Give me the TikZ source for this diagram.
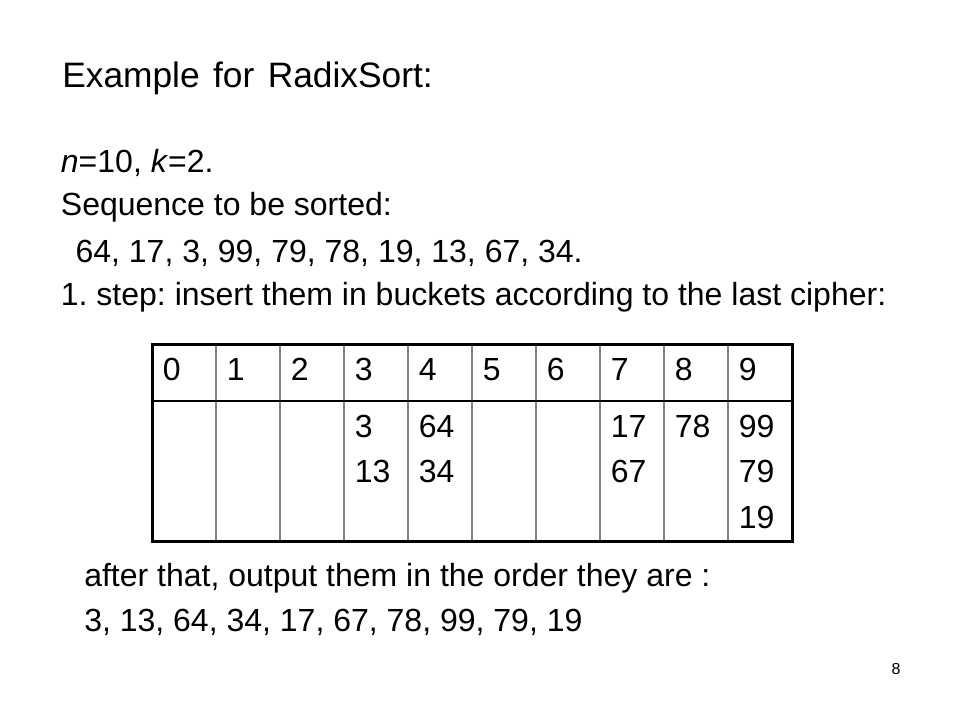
\documentclass[tikz,border=0pt]{standalone}
\usepackage{fontspec}
\setmainfont{Liberation Sans}
\usepackage{xcolor}
\frenchspacing

\tikzset{
    txt/.style={anchor=base west, inner sep=0pt, font=\fontsize{24}{28.8}\selectfont},
    num/.style={anchor=base west, inner sep=0pt, font=\fontsize{24}{28.8}\selectfont},
    heading/.style={anchor=base west, inner sep=0pt, font=\fontsize{26.5}{32}\selectfont},
    grid line/.style={draw=gray, line width=1.25pt},
    head line/.style={draw=black, line width=1pt},
    border/.style={draw=black, line width=2.25pt}
}

\begin{document}
\begin{tikzpicture}[x=1pt, y=-1pt]
    \useasboundingbox (0,0) rectangle (720,540);

    \node[heading] (title) at (46.5,65.5) {\spaceskip=0.38em\relax Example for RadixSort:};
    \node[txt] (param) at (45.5,129.5) {\textit{n}=10, \textit{k}=2.};
    \node[txt] (seq) at (45.5,161.8) {Sequence to be sorted:};
    \node[txt] (input) at (56.5,196.7) {64, 17, 3, 99, 79, 78, 19, 13, 67, 34.};
    \node[txt] (step) at (45.5,229.3) {1. step: insert them in buckets according to the last cipher:};

    % bucket table
    \foreach \d in {1,...,9}
        \draw[grid line] (114+48*\d,258) -- (114+48*\d,405.75);
    \draw[head line] (114,300.75) -- (594,300.75);
    \draw[border] (114,258) rectangle (594,405.75);

    \foreach \d in {0,...,9}
        \node[num] (h\d) at (122+48*\d,285.5) {\d};

    \foreach \c/\r/\v in {3/0/3, 3/1/13, 4/0/64, 4/1/34, 7/0/17, 7/1/67,
                          8/0/78, 9/0/99, 9/1/79, 9/2/19}
        \node[num] (v\c\r) at (122+48*\c,327.75+34.25*\r) {\v};

    \node[txt] (after) at (63,439.5) {after that, output them in the order they are :};
    \node[txt] (output) at (63,473.8) {3, 13, 64, 34, 17, 67, 78, 99, 79, 19};

    \node[anchor=base, inner sep=0pt, font=\fontsize{12}{14}\selectfont] (page) at (672,505.5) {8};
\end{tikzpicture}
\end{document}
